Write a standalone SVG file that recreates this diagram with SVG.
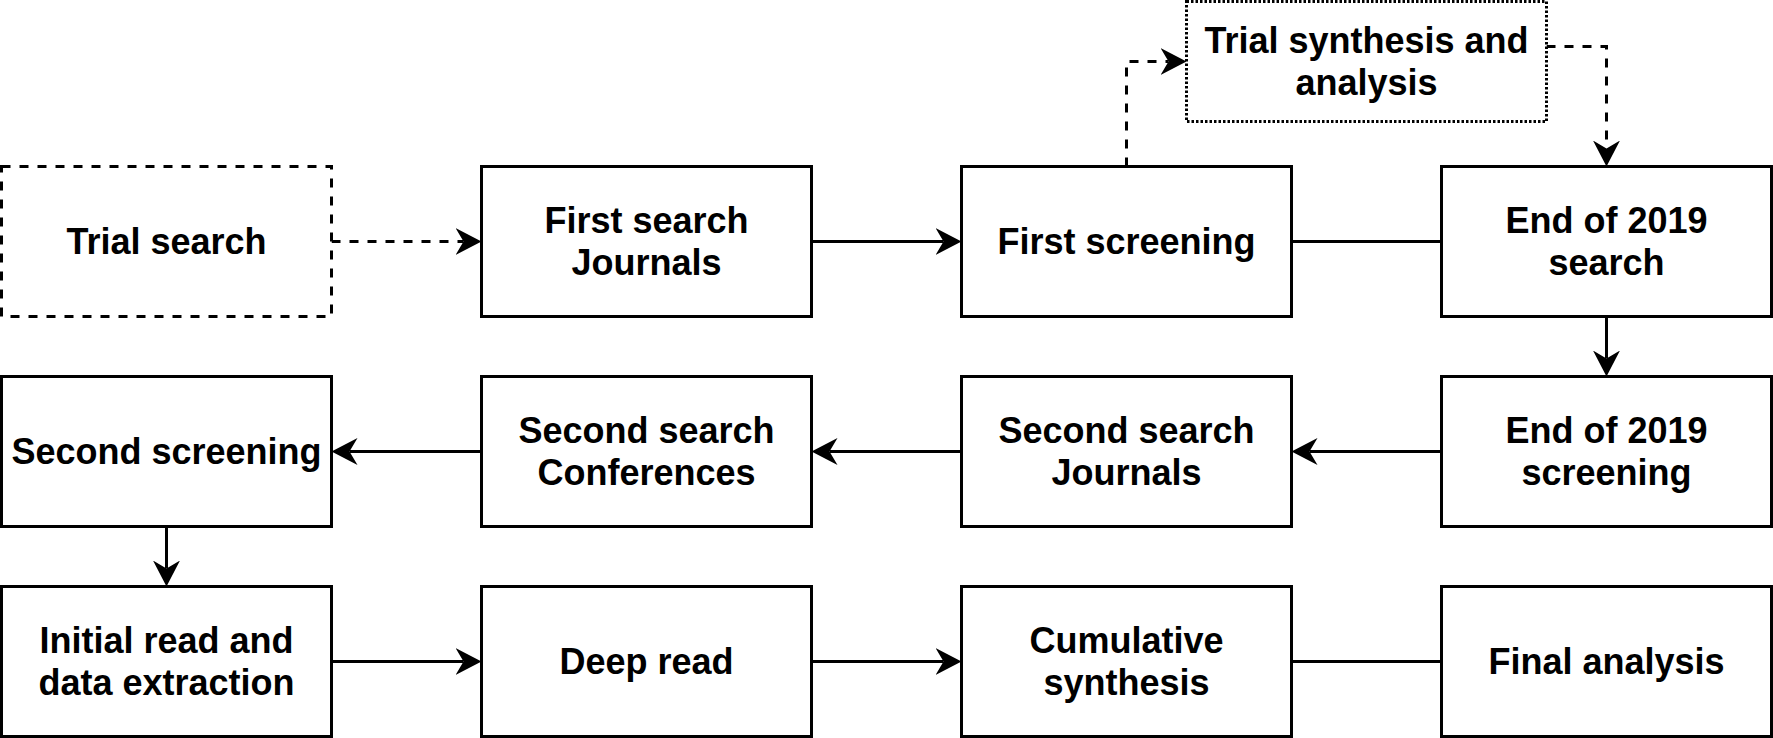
<svg xmlns="http://www.w3.org/2000/svg" width="1773" height="738" viewBox="0 0 1773 738">
<style>
.box{fill:#fff;stroke:#000;stroke-width:3}
.dash{stroke-dasharray:9 9}
.dot{stroke-dasharray:2.5 2}
.lbl{font-family:"Liberation Sans",Arial,sans-serif;font-weight:bold;font-size:36px;fill:#000;text-anchor:middle}
.edge{fill:none;stroke:#000;stroke-width:3}
.arr{marker-end:url(#ah)}
</style>
<defs>
<marker id="ah" markerUnits="userSpaceOnUse" markerWidth="26" markerHeight="27" viewBox="0 0 26 27" refX="8" refY="13.5" orient="auto">
<path d="M26,13.5 L0,0 L8,13.5 L0,27 Z" fill="#000" stroke="none"/>
</marker>
</defs>
<rect width="1773" height="738" fill="#fff"/>
<g id="connectors">
<path class="edge dash arr" d="M331.5,241.5 H463.5"/>
<path class="edge arr" d="M811.5,241.5 H943.5"/>
<path class="edge" d="M1291.5,241.5 H1441.5"/>
<path class="edge dash arr" d="M1126.5,166.5 V61.5 H1168.5"/>
<path class="edge dash arr" d="M1546.5,46.5 H1606.5 V148.5"/>
<path class="edge arr" d="M1606.5,316.5 V358.5"/>
<path class="edge arr" d="M1441.5,451.5 H1309.5"/>
<path class="edge arr" d="M961.5,451.5 H829.5"/>
<path class="edge arr" d="M481.5,451.5 H349.5"/>
<path class="edge arr" d="M166.5,526.5 V568.5"/>
<path class="edge arr" d="M331.5,661.5 H463.5"/>
<path class="edge arr" d="M811.5,661.5 H943.5"/>
<path class="edge" d="M1291.5,661.5 H1441.5"/>
</g>
<g id="trial-search"><rect class="box dash" x="1.5" y="166.5" width="330" height="150"/><text class="lbl" x="166.5" y="254">Trial search</text></g>
<g id="first-search-journals"><rect class="box" x="481.5" y="166.5" width="330" height="150"/><text class="lbl" x="646.5" y="233">First search</text><text class="lbl" x="646.5" y="275">Journals</text></g>
<g id="first-screening"><rect class="box" x="961.5" y="166.5" width="330" height="150"/><text class="lbl" x="1126.5" y="254">First screening</text></g>
<g id="end-2019-search"><rect class="box" x="1441.5" y="166.5" width="330" height="150"/><text class="lbl" x="1606.5" y="233">End of 2019</text><text class="lbl" x="1606.5" y="275">search</text></g>
<g id="trial-synthesis"><rect class="box dot" x="1186.5" y="1.5" width="360" height="120"/><text class="lbl" x="1366.5" y="53">Trial synthesis and</text><text class="lbl" x="1366.5" y="95">analysis</text></g>
<g id="second-screening"><rect class="box" x="1.5" y="376.5" width="330" height="150"/><text class="lbl" x="166.5" y="464">Second screening</text></g>
<g id="second-search-conferences"><rect class="box" x="481.5" y="376.5" width="330" height="150"/><text class="lbl" x="646.5" y="443">Second search</text><text class="lbl" x="646.5" y="485">Conferences</text></g>
<g id="second-search-journals"><rect class="box" x="961.5" y="376.5" width="330" height="150"/><text class="lbl" x="1126.5" y="443">Second search</text><text class="lbl" x="1126.5" y="485">Journals</text></g>
<g id="end-2019-screening"><rect class="box" x="1441.5" y="376.5" width="330" height="150"/><text class="lbl" x="1606.5" y="443">End of 2019</text><text class="lbl" x="1606.5" y="485">screening</text></g>
<g id="initial-read"><rect class="box" x="1.5" y="586.5" width="330" height="150"/><text class="lbl" x="166.5" y="653">Initial read and</text><text class="lbl" x="166.5" y="695">data extraction</text></g>
<g id="deep-read"><rect class="box" x="481.5" y="586.5" width="330" height="150"/><text class="lbl" x="646.5" y="674">Deep read</text></g>
<g id="cumulative-synthesis"><rect class="box" x="961.5" y="586.5" width="330" height="150"/><text class="lbl" x="1126.5" y="653">Cumulative</text><text class="lbl" x="1126.5" y="695">synthesis</text></g>
<g id="final-analysis"><rect class="box" x="1441.5" y="586.5" width="330" height="150"/><text class="lbl" x="1606.5" y="674">Final analysis</text></g>
</svg>
